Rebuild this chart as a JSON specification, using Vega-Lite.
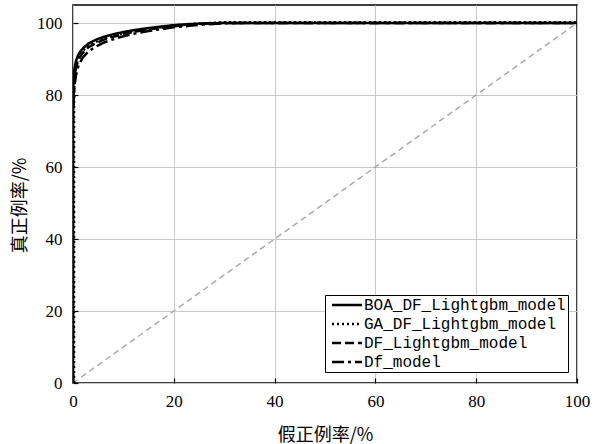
{
  "$schema": "https://vega.github.io/schema/vega-lite/v6.json",
  "width": 504,
  "height": 378,
  "padding": {"left": 73, "top": 5, "right": 25, "bottom": 61},
  "autosize": {"type": "none"},
  "background": "white",
  "config": {
    "view": {"stroke": "black", "strokeWidth": 1.5},
    "axis": {
      "grid": true,
      "gridColor": "#c8c8c8",
      "gridWidth": 1,
      "domain": false,
      "tickColor": "black",
      "tickSize": -5,
      "tickWidth": 1.2,
      "labelFont": "Liberation Serif, DejaVu Serif, serif",
      "labelFontSize": 17,
      "labelColor": "black",
      "labelFlush": false,
      "titleFont": "Noto Sans CJK SC",
      "titleFontSize": 18,
      "titleFontWeight": "normal",
      "titleColor": "black"
    }
  },
  "layer": [
    {
      "data": {"values": [{"x": 0, "y": 0}, {"x": 100, "y": 100}]},
      "mark": {"type": "line", "color": "#aaaaaa", "strokeWidth": 1.5, "strokeDash": [6, 4]},
      "encoding": {
        "x": {"field": "x", "type": "quantitative"},
        "y": {"field": "y", "type": "quantitative"}
      }
    },
    {
      "data": {"values": [
        {"model": "BOA_DF_Lightgbm_model", "i": 0, "x": 0, "y": 0},
        {"model": "BOA_DF_Lightgbm_model", "i": 1, "x": 0, "y": 78},
        {"model": "BOA_DF_Lightgbm_model", "i": 2, "x": 0.1, "y": 84},
        {"model": "BOA_DF_Lightgbm_model", "i": 3, "x": 0.3, "y": 87.5},
        {"model": "BOA_DF_Lightgbm_model", "i": 4, "x": 0.6, "y": 89.5},
        {"model": "BOA_DF_Lightgbm_model", "i": 5, "x": 1, "y": 91},
        {"model": "BOA_DF_Lightgbm_model", "i": 6, "x": 1.5, "y": 92.2},
        {"model": "BOA_DF_Lightgbm_model", "i": 7, "x": 2, "y": 93},
        {"model": "BOA_DF_Lightgbm_model", "i": 8, "x": 3, "y": 94.2},
        {"model": "BOA_DF_Lightgbm_model", "i": 9, "x": 4, "y": 95},
        {"model": "BOA_DF_Lightgbm_model", "i": 10, "x": 5, "y": 95.6},
        {"model": "BOA_DF_Lightgbm_model", "i": 11, "x": 6, "y": 96.1},
        {"model": "BOA_DF_Lightgbm_model", "i": 12, "x": 8, "y": 96.9},
        {"model": "BOA_DF_Lightgbm_model", "i": 13, "x": 10, "y": 97.5},
        {"model": "BOA_DF_Lightgbm_model", "i": 14, "x": 12, "y": 98},
        {"model": "BOA_DF_Lightgbm_model", "i": 15, "x": 15, "y": 98.6},
        {"model": "BOA_DF_Lightgbm_model", "i": 16, "x": 18, "y": 99.1},
        {"model": "BOA_DF_Lightgbm_model", "i": 17, "x": 20, "y": 99.4},
        {"model": "BOA_DF_Lightgbm_model", "i": 18, "x": 23, "y": 99.7},
        {"model": "BOA_DF_Lightgbm_model", "i": 19, "x": 26, "y": 99.9},
        {"model": "BOA_DF_Lightgbm_model", "i": 20, "x": 30, "y": 100},
        {"model": "BOA_DF_Lightgbm_model", "i": 21, "x": 100, "y": 100},
        {"model": "GA_DF_Lightgbm_model", "i": 0, "x": 0.2, "y": 0},
        {"model": "GA_DF_Lightgbm_model", "i": 1, "x": 0.2, "y": 76},
        {"model": "GA_DF_Lightgbm_model", "i": 2, "x": 0.25, "y": 82},
        {"model": "GA_DF_Lightgbm_model", "i": 3, "x": 0.4, "y": 86},
        {"model": "GA_DF_Lightgbm_model", "i": 4, "x": 0.7, "y": 88.5},
        {"model": "GA_DF_Lightgbm_model", "i": 5, "x": 1, "y": 90.2},
        {"model": "GA_DF_Lightgbm_model", "i": 6, "x": 1.5, "y": 91.5},
        {"model": "GA_DF_Lightgbm_model", "i": 7, "x": 2, "y": 92.4},
        {"model": "GA_DF_Lightgbm_model", "i": 8, "x": 3, "y": 93.6},
        {"model": "GA_DF_Lightgbm_model", "i": 9, "x": 4, "y": 94.4},
        {"model": "GA_DF_Lightgbm_model", "i": 10, "x": 5, "y": 95},
        {"model": "GA_DF_Lightgbm_model", "i": 11, "x": 6, "y": 95.6},
        {"model": "GA_DF_Lightgbm_model", "i": 12, "x": 8, "y": 96.5},
        {"model": "GA_DF_Lightgbm_model", "i": 13, "x": 10, "y": 97.1},
        {"model": "GA_DF_Lightgbm_model", "i": 14, "x": 12, "y": 97.7},
        {"model": "GA_DF_Lightgbm_model", "i": 15, "x": 15, "y": 98.4},
        {"model": "GA_DF_Lightgbm_model", "i": 16, "x": 18, "y": 98.9},
        {"model": "GA_DF_Lightgbm_model", "i": 17, "x": 20, "y": 99.3},
        {"model": "GA_DF_Lightgbm_model", "i": 18, "x": 23, "y": 99.6},
        {"model": "GA_DF_Lightgbm_model", "i": 19, "x": 26, "y": 99.9},
        {"model": "GA_DF_Lightgbm_model", "i": 20, "x": 30, "y": 100.2},
        {"model": "GA_DF_Lightgbm_model", "i": 21, "x": 100, "y": 100.2},
        {"model": "DF_Lightgbm_model", "i": 0, "x": 0, "y": 0},
        {"model": "DF_Lightgbm_model", "i": 1, "x": 0, "y": 74},
        {"model": "DF_Lightgbm_model", "i": 2, "x": 0.1, "y": 80},
        {"model": "DF_Lightgbm_model", "i": 3, "x": 0.3, "y": 84.5},
        {"model": "DF_Lightgbm_model", "i": 4, "x": 0.6, "y": 87.5},
        {"model": "DF_Lightgbm_model", "i": 5, "x": 1, "y": 89.5},
        {"model": "DF_Lightgbm_model", "i": 6, "x": 1.5, "y": 90.8},
        {"model": "DF_Lightgbm_model", "i": 7, "x": 2, "y": 91.8},
        {"model": "DF_Lightgbm_model", "i": 8, "x": 3, "y": 93.2},
        {"model": "DF_Lightgbm_model", "i": 9, "x": 4, "y": 94},
        {"model": "DF_Lightgbm_model", "i": 10, "x": 5, "y": 94.7},
        {"model": "DF_Lightgbm_model", "i": 11, "x": 6, "y": 95.3},
        {"model": "DF_Lightgbm_model", "i": 12, "x": 8, "y": 96.2},
        {"model": "DF_Lightgbm_model", "i": 13, "x": 10, "y": 96.9},
        {"model": "DF_Lightgbm_model", "i": 14, "x": 12, "y": 97.5},
        {"model": "DF_Lightgbm_model", "i": 15, "x": 15, "y": 98.2},
        {"model": "DF_Lightgbm_model", "i": 16, "x": 18, "y": 98.8},
        {"model": "DF_Lightgbm_model", "i": 17, "x": 20, "y": 99.1},
        {"model": "DF_Lightgbm_model", "i": 18, "x": 23, "y": 99.5},
        {"model": "DF_Lightgbm_model", "i": 19, "x": 26, "y": 99.8},
        {"model": "DF_Lightgbm_model", "i": 20, "x": 30, "y": 100},
        {"model": "DF_Lightgbm_model", "i": 21, "x": 100, "y": 100},
        {"model": "Df_model", "i": 0, "x": 0, "y": 0},
        {"model": "Df_model", "i": 1, "x": 0, "y": 72},
        {"model": "Df_model", "i": 2, "x": 0.1, "y": 78},
        {"model": "Df_model", "i": 3, "x": 0.3, "y": 82.5},
        {"model": "Df_model", "i": 4, "x": 0.6, "y": 85.5},
        {"model": "Df_model", "i": 5, "x": 1, "y": 87.8},
        {"model": "Df_model", "i": 6, "x": 1.5, "y": 89.3},
        {"model": "Df_model", "i": 7, "x": 2, "y": 90.5},
        {"model": "Df_model", "i": 8, "x": 3, "y": 92},
        {"model": "Df_model", "i": 9, "x": 4, "y": 93},
        {"model": "Df_model", "i": 10, "x": 5, "y": 93.8},
        {"model": "Df_model", "i": 11, "x": 6, "y": 94.5},
        {"model": "Df_model", "i": 12, "x": 8, "y": 95.5},
        {"model": "Df_model", "i": 13, "x": 10, "y": 96.3},
        {"model": "Df_model", "i": 14, "x": 12, "y": 97},
        {"model": "Df_model", "i": 15, "x": 15, "y": 97.8},
        {"model": "Df_model", "i": 16, "x": 18, "y": 98.4},
        {"model": "Df_model", "i": 17, "x": 20, "y": 98.8},
        {"model": "Df_model", "i": 18, "x": 23, "y": 99.2},
        {"model": "Df_model", "i": 19, "x": 26, "y": 99.6},
        {"model": "Df_model", "i": 20, "x": 30, "y": 99.9},
        {"model": "Df_model", "i": 21, "x": 35, "y": 100},
        {"model": "Df_model", "i": 22, "x": 100, "y": 100}
      ]},
      "mark": {"type": "line", "color": "black", "strokeWidth": 2.5, "clip": true},
      "encoding": {
        "x": {
          "field": "x", "type": "quantitative",
          "scale": {"domain": [0, 100], "nice": false},
          "axis": {"values": [0, 20, 40, 60, 80, 100], "title": "假正例率/%", "labelPadding": 15, "titlePadding": 17}
        },
        "y": {
          "field": "y", "type": "quantitative",
          "scale": {"domain": [0, 105], "nice": false},
          "axis": {"values": [0, 20, 40, 60, 80, 100], "title": "真正例率/%", "labelPadding": 16, "titlePadding": 7, "titleY": 200}
        },
        "order": {"field": "i", "type": "quantitative"},
        "strokeDash": {
          "field": "model", "type": "nominal",
          "scale": {
            "domain": ["BOA_DF_Lightgbm_model", "GA_DF_Lightgbm_model", "DF_Lightgbm_model", "Df_model"],
            "range": [[1, 0], [2, 3], [9, 4], [12, 4, 3, 4]]
          },
          "legend": {
            "title": null,
            "orient": "none",
            "legendX": 252,
            "legendY": 290,
            "strokeColor": "black",
            "fillColor": "white",
            "cornerRadius": 0,
            "padding": 2,
            "rowPadding": 3,
            "symbolType": "M-0.6,0H5.4",
            "symbolSize": 100,
            "symbolStrokeWidth": 2.5,
            "symbolStrokeColor": "black",
            "labelOffset": 21,
            "labelFont": "Liberation Mono",
            "labelFontSize": 16,
            "labelColor": "black",
            "labelLimit": 400
          }
        }
      }
    }
  ]
}
